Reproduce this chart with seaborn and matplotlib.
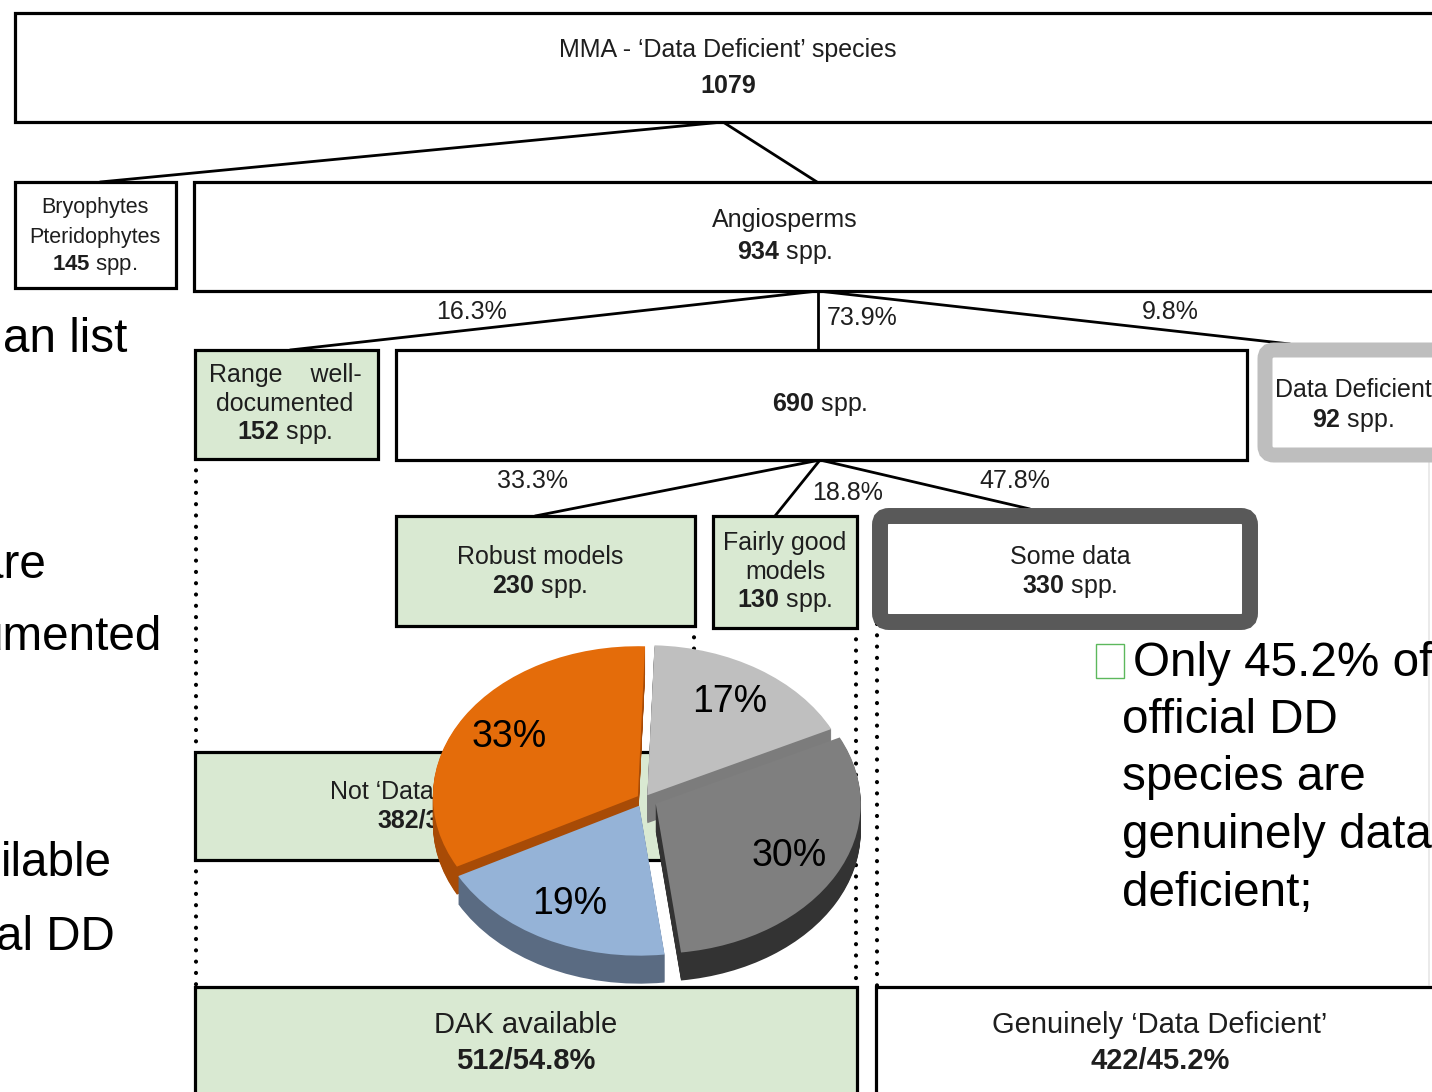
import numpy as np
import pandas as pd
import seaborn as sns
import matplotlib.pyplot as plt
from matplotlib.patches import Rectangle, FancyBboxPatch

# --- data ---
total_dd = 1079
group_names = ['Bryophytes', 'Pteridophytes', 'Angiosperms']
group_counts = [145, 934]
angio_pcts = ['16.3%', '73.9%', '9.8%']
angio_counts = [152, 690, 92]
model_pcts = ['33.3%', '18.8%', '47.8%']
model_counts = [230, 130, 330]
not_dd = [382, '35.4%']
dak = [512, '54.8%']
genuine = [422, '45.2%']

pie_values = [33, 19, 30, 17]
pie_colors = ['#e46c0a', '#95b3d7', '#7f7f7f', '#bfbfbf']
pie_sides = ['#a84b06', '#5a6b82', '#333333', '#7c7c7c']

left_lines = ['an list', 'are', 'umented', 'ilable', 'al DD']
right_lines = ['Only 45.2% of', 'official DD', 'species are', 'genuinely data', 'deficient;']

sns.set_theme(style='white')
plt.rcParams['font.family'] = ['Liberation Sans', 'DejaVu Sans']
plt.rcParams['mathtext.fontset'] = 'custom'
plt.rcParams['mathtext.rm'] = 'Liberation Sans'
plt.rcParams['mathtext.bf'] = 'Liberation Sans:bold'

W, H = 1432, 1092
fig = plt.figure(figsize=(W / 100, H / 100), dpi=100)
ax = fig.add_axes([0, 0, 1, 1])
ax.set_xlim(0, W)
ax.set_ylim(H, 0)
ax.axis('off')

GREEN = '#d9e9d2'
TXT = '#1e1e1e'


def box(x0, y0, x1, y1, fc='white'):
    ax.add_patch(Rectangle((x0, y0), x1 - x0, y1 - y0, fc=fc, ec='black', lw=2.3, zorder=2))


def rbox(x0, y0, x1, y1, ec, lw):
    ax.add_patch(FancyBboxPatch((x0, y0), x1 - x0, y1 - y0, boxstyle='round,pad=0,rounding_size=9',
                                fc='white', ec=ec, lw=lw, zorder=2))


def line(p, q):
    ax.plot([p[0], q[0]], [p[1], q[1]], color='black', lw=2.0, zorder=1)


def dots(x, y0, y1):
    ax.plot([x, x], [y0, y1], color='black', lw=3.0, ls=(0, (0.01, 2.7)),
            dash_capstyle='round', zorder=1)


def label(x, y, s, size=18, **kw):
    ax.text(x, y + 2, s, ha='center', va='center', fontsize=size, color=TXT, zorder=5, **kw)


def spp(n):
    return r'$\mathbf{%d}$ spp.' % n


# connectors
line((723, 122), (100, 182))
line((723, 122), (817, 182))
line((818, 291), (290, 350))
line((818, 291), (818, 350))
line((818, 291), (1290, 344))
line((820, 460), (535, 516))
line((820, 460), (775, 516))
line((820, 460), (1030, 509))

dots(196, 459, 752)
dots(196, 860, 987)
dots(694, 626, 752)
dots(856, 628, 987)
dots(877, 624, 987)
ax.plot([1429, 1429], [462, 985], color='#e6e6e6', lw=1.2, zorder=0)

# boxes
box(15, 13, 1460, 122)
label(728, 48, "MMA - \u2018Data Deficient\u2019 species")
label(728, 84, str(total_dd), fontweight='bold')

box(15, 182, 176, 288)
label(95, 206, group_names[0], size=15.5)
label(95, 235, group_names[1], size=15.5)
label(95, 263, spp(group_counts[0]), size=16)
box(194, 182, 1460, 291)
label(785, 218, group_names[2])
label(785, 250, spp(group_counts[1]))

label(472, 310, angio_pcts[0])
label(862, 316, angio_pcts[1])
label(1170, 310, angio_pcts[2])

box(195, 350, 378, 459, fc=GREEN)
label(285, 373, 'Range    well-')
label(285, 402, 'documented')
label(285, 431, spp(angio_counts[0]))
box(396, 350, 1247, 460)
label(820, 402, spp(angio_counts[1]))
rbox(1265, 350, 1470, 455, '#bebebe', 10.8)
label(1353, 388, 'Data Deficient')
label(1353, 418, spp(angio_counts[2]))

label(532, 479, model_pcts[0])
label(848, 491, model_pcts[1])
label(1015, 479, model_pcts[2])

box(396, 516, 695, 626, fc=GREEN)
label(540, 555, 'Robust models')
label(540, 584, spp(model_counts[0]))
box(713, 516, 857, 628, fc=GREEN)
label(785, 541, 'Fairly good')
label(785, 570, 'models')
label(785, 599, spp(model_counts[1]))
rbox(880, 516, 1250, 622, '#595959', 11.5)
label(1070, 555, 'Some data')
label(1070, 584, spp(model_counts[2]))

box(195, 752, 680, 860, fc=GREEN)
label(437, 790, "Not \u2018Data Deficient\u2019")
label(437, 819, '%d/%s' % tuple(not_dd), fontweight='bold')

box(195, 987, 857, 1110, fc=GREEN)
label(526, 1023, 'DAK available', size=21)
label(526, 1059, '%d/%s' % tuple(dak), size=21, fontweight='bold')
box(876, 987, 1460, 1110)
label(1160, 1023, 'Genuinely \u2018Data Deficient\u2019', size=21)
label(1160, 1059, '%d/%s' % tuple(genuine), size=21, fontweight='bold')

# slide text cut at both edges
for s, xr, y in zip(left_lines, [127, 46, 162, 112, 115], [340, 565, 638, 864, 938]):
    ax.text(xr, y, s, ha='right', va='center', fontsize=34.3, color='black')
ax.add_patch(Rectangle((1096, 644), 28, 34, fc='none', ec='#5cb85c', lw=1.0, zorder=3))
for i, s in enumerate(right_lines):
    ax.text(1133 if i == 0 else 1122, 663 + 57.5 * i, s, ha='left', va='center',
            fontsize=34.3, color='black')

# pseudo 3D pie
rx, ry, depth = 205, 150, 28
cx, cy = 644, 799
pax = fig.add_axes([(cx - 1.4 * rx) / W, 1 - (cy + 1.4 * ry) / H, 2.8 * rx / W, 2.8 * ry / H])
explode = [0.035, 0.05, 0.065, 0.03]
for k in range(depth, 0, -1):
    pax.pie(pie_values, colors=pie_sides, startangle=88, counterclock=True, explode=explode,
            center=(0, -k / ry), wedgeprops=dict(lw=0))
pax.pie(pie_values, colors=pie_colors, startangle=88, counterclock=True, explode=explode,
        autopct='%.0f%%', pctdistance=0.74, wedgeprops=dict(lw=0),
        textprops=dict(fontsize=27, color='black'))
pax.set_aspect('auto')
pax.set_xlim(-1.4, 1.4)
pax.set_ylim(-1.4, 1.4)
pax.axis('off')

fig.savefig('out.png', dpi=100, facecolor='white')
